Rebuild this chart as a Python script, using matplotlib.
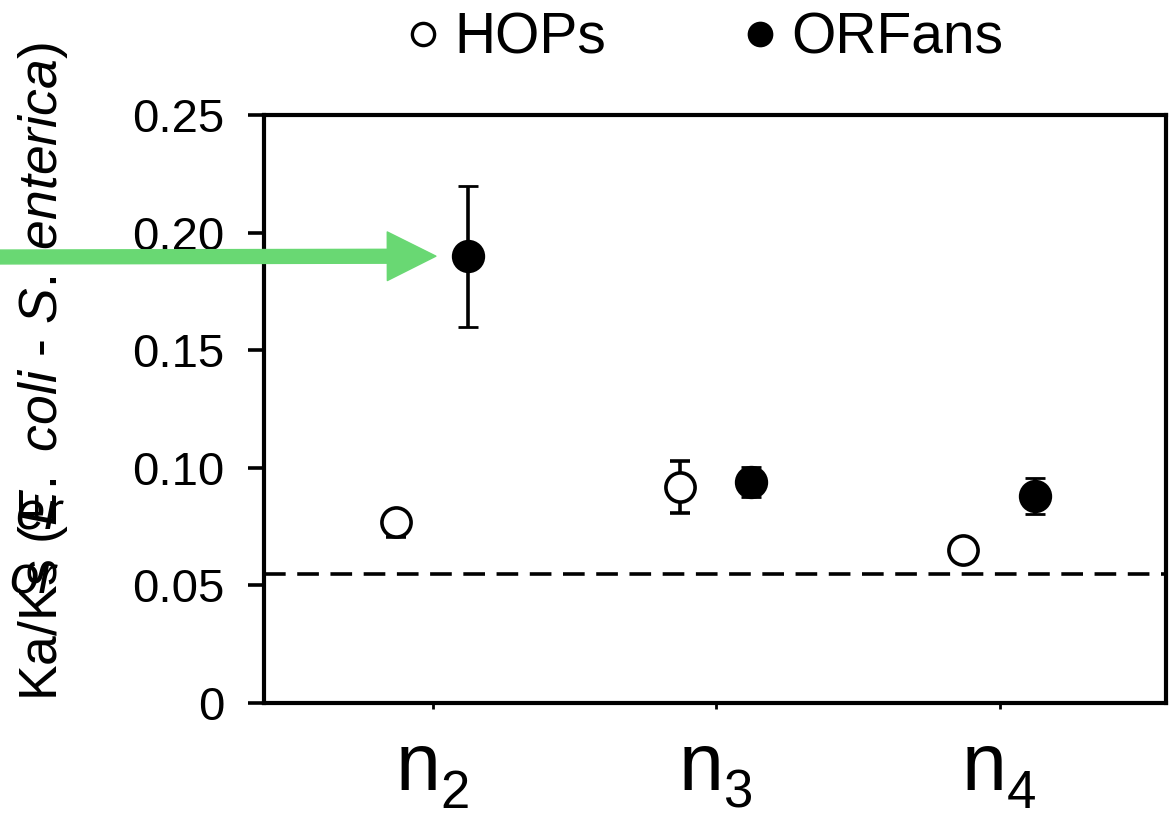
import matplotlib
matplotlib.use("Agg")
import matplotlib.pyplot as plt
import numpy as np

# ---- data ----
categories = ["2", "3", "4"]
category_prefix = "n"
hops_values = [0.077, 0.092, 0.065]
hops_err_low = [0.0065, 0.011, 0.0]
hops_err_high = [0.004, 0.011, 0.0]
orfans_values = [0.190, 0.094, 0.088]
orfans_err = [0.030, 0.0065, 0.0075]
reference_level = 0.055
ytick_values = [0, 0.05, 0.10, 0.15, 0.20, 0.25]
ytick_labels = ["0", "0.05", "0.10", "0.15", "0.20", "0.25"]
legend_labels = ["HOPs", "ORFans"]
ylabel_text = r'Ka/Ks ($\mathit{E.\ coli}$ - $\mathit{S.\ enterica}$)'

plt.rcParams['font.family'] = ['Liberation Sans', 'DejaVu Sans']
plt.rcParams['mathtext.fontset'] = 'custom'
plt.rcParams['mathtext.rm'] = 'Liberation Sans'
plt.rcParams['mathtext.it'] = 'Liberation Sans:italic'
plt.rcParams['mathtext.bf'] = 'Liberation Sans:bold'

fig = plt.figure(figsize=(11.7, 8.17), dpi=100)
ax = fig.add_axes([0.2256, 0.1395, 0.771, 0.7197])

x = np.arange(1, len(categories) + 1)
off_h, off_o = -0.13, 0.123
green = '#69D873'

ax.axhline(reference_level, color='black', lw=2.6, linestyle=(0, (6, 3.2)), zorder=1)

ax.errorbar(x + off_h, hops_values, yerr=[hops_err_low, hops_err_high], fmt='o', ms=21,
            mfc='white', mec='black', mew=2.6, ecolor='black', elinewidth=2.6, capsize=7.5,
            capthick=2.6, zorder=3)
ax.errorbar(x + off_o, orfans_values, yerr=orfans_err, fmt='o', ms=22, mfc='black',
            mec='black', mew=2.0, ecolor='black', elinewidth=2.6, capsize=7.5,
            capthick=2.6, zorder=3)

ax.set_xlim(0.403, 3.587)
ax.set_ylim(0, 0.25)
ax.set_yticks(ytick_values)
ax.set_yticklabels(ytick_labels)
ax.set_xticks(x)
ax.set_xticklabels([])

for s in ax.spines.values():
    s.set_linewidth(3.0)
ax.tick_params(axis='y', direction='out', length=11.5, width=2.6, pad=17, labelsize=34)
ax.tick_params(axis='x', direction='out', length=4, width=2.0)

# category labels: large "n" with lowered subscript digit
for xi, c in zip(x, categories):
    ax.annotate(category_prefix, xy=(xi, 0), xycoords=('data', 'axes fraction'),
                xytext=(5, -62.5), textcoords='offset points', ha='right', va='baseline',
                fontsize=58, annotation_clip=False)
    ax.annotate(c, xy=(xi, 0), xycoords=('data', 'axes fraction'),
                xytext=(5, -75.5), textcoords='offset points', ha='left', va='baseline',
                fontsize=38, annotation_clip=False)

ax.set_ylabel(ylabel_text, fontsize=38.5)
ax.yaxis.set_label_coords((70 - 264) / (1166 - 264), (703 - 372) / (703 - 115))

# clipped remnant text on left edge
fig.text(62 / 1170, 1 - 530 / 817, "er", fontsize=38, style='italic', ha='right', va='baseline')
fig.text(56 / 1170, 1 - 594 / 817, "or", fontsize=38, style='italic', ha='right', va='baseline')

# legend
h1 = plt.Line2D([], [], marker='o', ls='none', ms=16, mfc='white', mec='black', mew=2.4)
h2 = plt.Line2D([], [], marker='o', ls='none', ms=17, mfc='black', mec='black', mew=1.5)
fig.legend([h1, h2], legend_labels, loc='center', bbox_to_anchor=(702 / 1170, 1 - 39 / 817),
           ncol=2, frameon=False, fontsize=41, handletextpad=0.15, columnspacing=2.3,
           handlelength=0.8, borderpad=0)

# green arrow pointing to the high ORFans point
ax.annotate('', xy=(x[0] + off_o - 0.113, orfans_values[0]), xycoords='data',
            xytext=(0, 1 - 257 / 817), textcoords='figure fraction',
            arrowprops=dict(arrowstyle='simple,head_length=0.7,head_width=0.7,tail_width=0.2',
                            mutation_scale=50, color=green, shrinkA=0, shrinkB=0),
            annotation_clip=False, zorder=5)

fig.savefig('out.png', dpi=100)
